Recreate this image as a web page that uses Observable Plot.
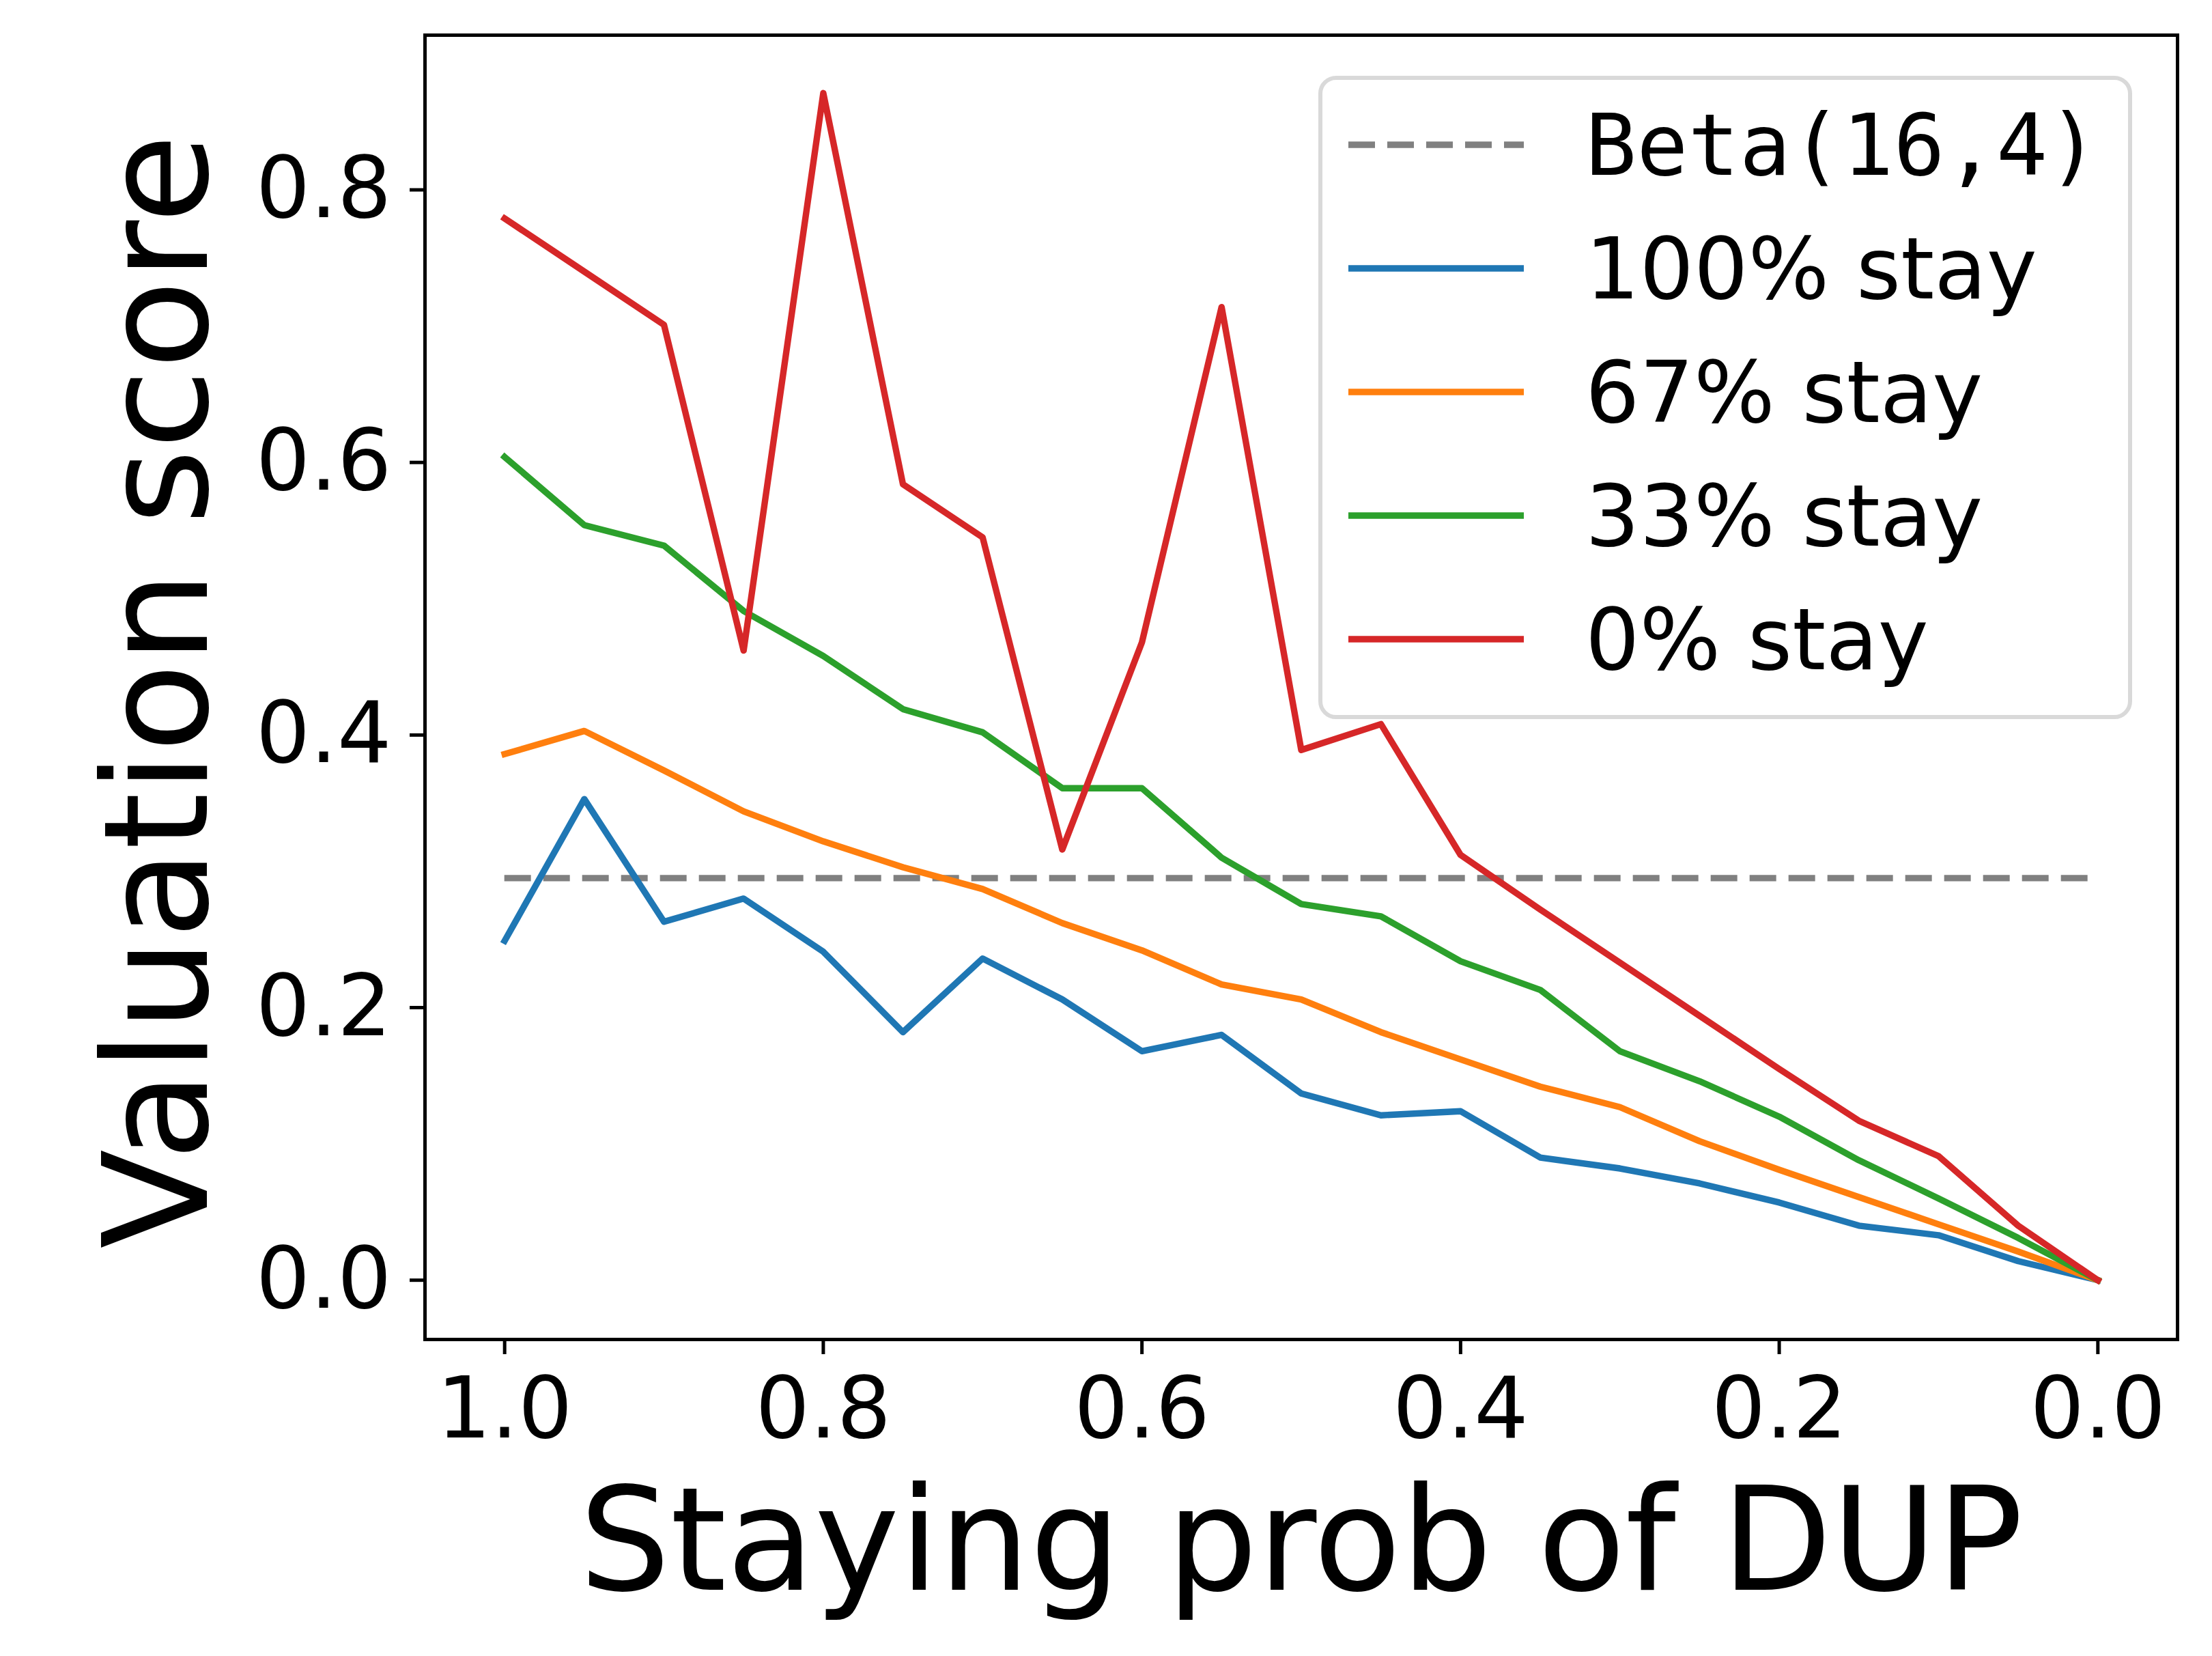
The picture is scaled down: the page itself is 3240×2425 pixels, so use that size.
<!DOCTYPE html>
<html>
<head>
<meta charset="utf-8">
<script src="https://cdn.jsdelivr.net/npm/d3@7"></script>
<script src="https://cdn.jsdelivr.net/npm/@observablehq/plot@0.6"></script>
<style>
  html, body { margin: 0; padding: 0; background: white; }
  #wrap { position: relative; width: 3240px; height: 2425px; background: white; }
  #legend {
    position: absolute; left: 1931px; top: 111px; width: 1192px; height: 942px;
    box-sizing: border-box; border: 6px solid #d9d9d9; border-radius: 26px;
    background: rgba(255,255,255,0.8);
  }
  .row { position: absolute; left: 38px; height: 181px; display: flex; align-items: center; }
  .row svg { display: block; }
  .row span { margin-left: 90px; font-size: 125px; font-family: "DejaVu Sans"; color: black; white-space: pre; }
  .row span.mono { font-family: "DejaVu Sans Mono"; }
</style>
</head>
<body>
<div id="wrap"></div>
<script>
const xs = [1.0, 0.95, 0.9, 0.85, 0.8, 0.75, 0.7, 0.65, 0.6, 0.55, 0.5, 0.45, 0.4, 0.35, 0.3, 0.25, 0.2, 0.15, 0.1, 0.05, 0.0];
const stay100 = [0.249, 0.353, 0.263, 0.280, 0.241, 0.182, 0.236, 0.206, 0.168, 0.180, 0.137, 0.121, 0.124, 0.090, 0.082, 0.071, 0.057, 0.040, 0.033, 0.014, 0.0];
const stay67  = [0.386, 0.403, 0.374, 0.344, 0.322, 0.303, 0.287, 0.262, 0.242, 0.217, 0.206, 0.182, 0.162, 0.142, 0.127, 0.102, 0.081, 0.061, 0.041, 0.021, 0.0];
const stay33  = [0.604, 0.554, 0.539, 0.491, 0.458, 0.419, 0.402, 0.361, 0.361, 0.310, 0.276, 0.267, 0.234, 0.213, 0.168, 0.146, 0.120, 0.088, 0.060, 0.031, 0.0];
const stay0   = [0.779, 0.740, 0.701, 0.462, 0.871, 0.584, 0.545, 0.316, 0.468, 0.714, 0.389, 0.408, 0.312, 0.272, 0.233, 0.194, 0.155, 0.117, 0.091, 0.040, 0.0];
const betaValue = 0.295;
const betaLabel = "Beta(16,4)";
const seriesLabels = ["100% stay", "67% stay", "33% stay", "0% stay"];
const seriesColors = ["#1f77b4", "#ff7f0e", "#2ca02c", "#d62728"];
const xTicks = [1.0, 0.8, 0.6, 0.4, 0.2, 0.0];
const yTicks = [0.0, 0.2, 0.4, 0.6, 0.8];
const xLabel = "Staying prob of DUP";
const yLabel = "Valuation score";

const seriesValues = [stay100, stay67, stay33, stay0];
const rows = [];
seriesValues.forEach((vals, s) => {
  vals.forEach((v, i) => rows.push({x: xs[i], y: v, series: seriesLabels[s]}));
});

const chart = Plot.plot({
  width: 3240,
  height: 2425,
  marginLeft: 622,
  marginRight: 51,
  marginTop: 51,
  marginBottom: 464,
  style: {fontFamily: "DejaVu Sans", background: "white", color: "black"},
  x: {domain: [1.05, -0.05]},
  y: {domain: [-0.0435, 0.9135]},
  color: {domain: seriesLabels, range: seriesColors},
  marks: [
    Plot.ruleY([betaValue], {x1: 1, x2: 0, stroke: "#808080", strokeWidth: 9.4, strokeDasharray: "39,18"}),
    Plot.line(rows, {x: "x", y: "y", z: "series", stroke: "series", strokeWidth: 9.4, strokeLinejoin: "round", strokeLinecap: "square"}),
    Plot.frame({stroke: "black", strokeWidth: 5}),
    Plot.axisX({ticks: xTicks, tickFormat: d3.format(".1f"), tickSize: 22, tickPadding: 33, fontSize: 125, strokeWidth: 5, label: null}),
    Plot.axisY({ticks: yTicks, tickFormat: d3.format(".1f"), tickSize: 22, tickPadding: 27, fontSize: 125, strokeWidth: 5, label: null}),
    Plot.text([xLabel], {frameAnchor: "bottom", lineAnchor: "bottom", dy: 366, fontSize: 210, textAnchor: "middle"}),
    Plot.text([yLabel], {frameAnchor: "left", lineAnchor: "bottom", rotate: -90, dx: -320, dy: 6, fontSize: 213, textAnchor: "middle"})
  ]
});

const wrap = document.getElementById("wrap");
wrap.appendChild(chart);

// legend
const legend = document.createElement("div");
legend.id = "legend";
const entries = [{label: betaLabel, color: "#808080", dash: "39,18", mono: true}]
  .concat(seriesLabels.map((l, i) => ({label: l, color: seriesColors[i], dash: null, mono: false})));
entries.forEach((e, i) => {
  const row = document.createElement("div");
  row.className = "row";
  row.style.top = (4.5 + i * 181) + "px";
  const svg = d3.create("svg").attr("width", 257).attr("height", 20);
  svg.append("line").attr("x1", 0).attr("x2", 257).attr("y1", 10).attr("y2", 10)
    .attr("stroke", e.color).attr("stroke-width", 9.4)
    .attr("stroke-dasharray", e.dash);
  row.appendChild(svg.node());
  const span = document.createElement("span");
  span.textContent = e.label;
  if (e.mono) span.className = "mono";
  row.appendChild(span);
  legend.appendChild(row);
});
wrap.appendChild(legend);
</script>
</body>
</html>
